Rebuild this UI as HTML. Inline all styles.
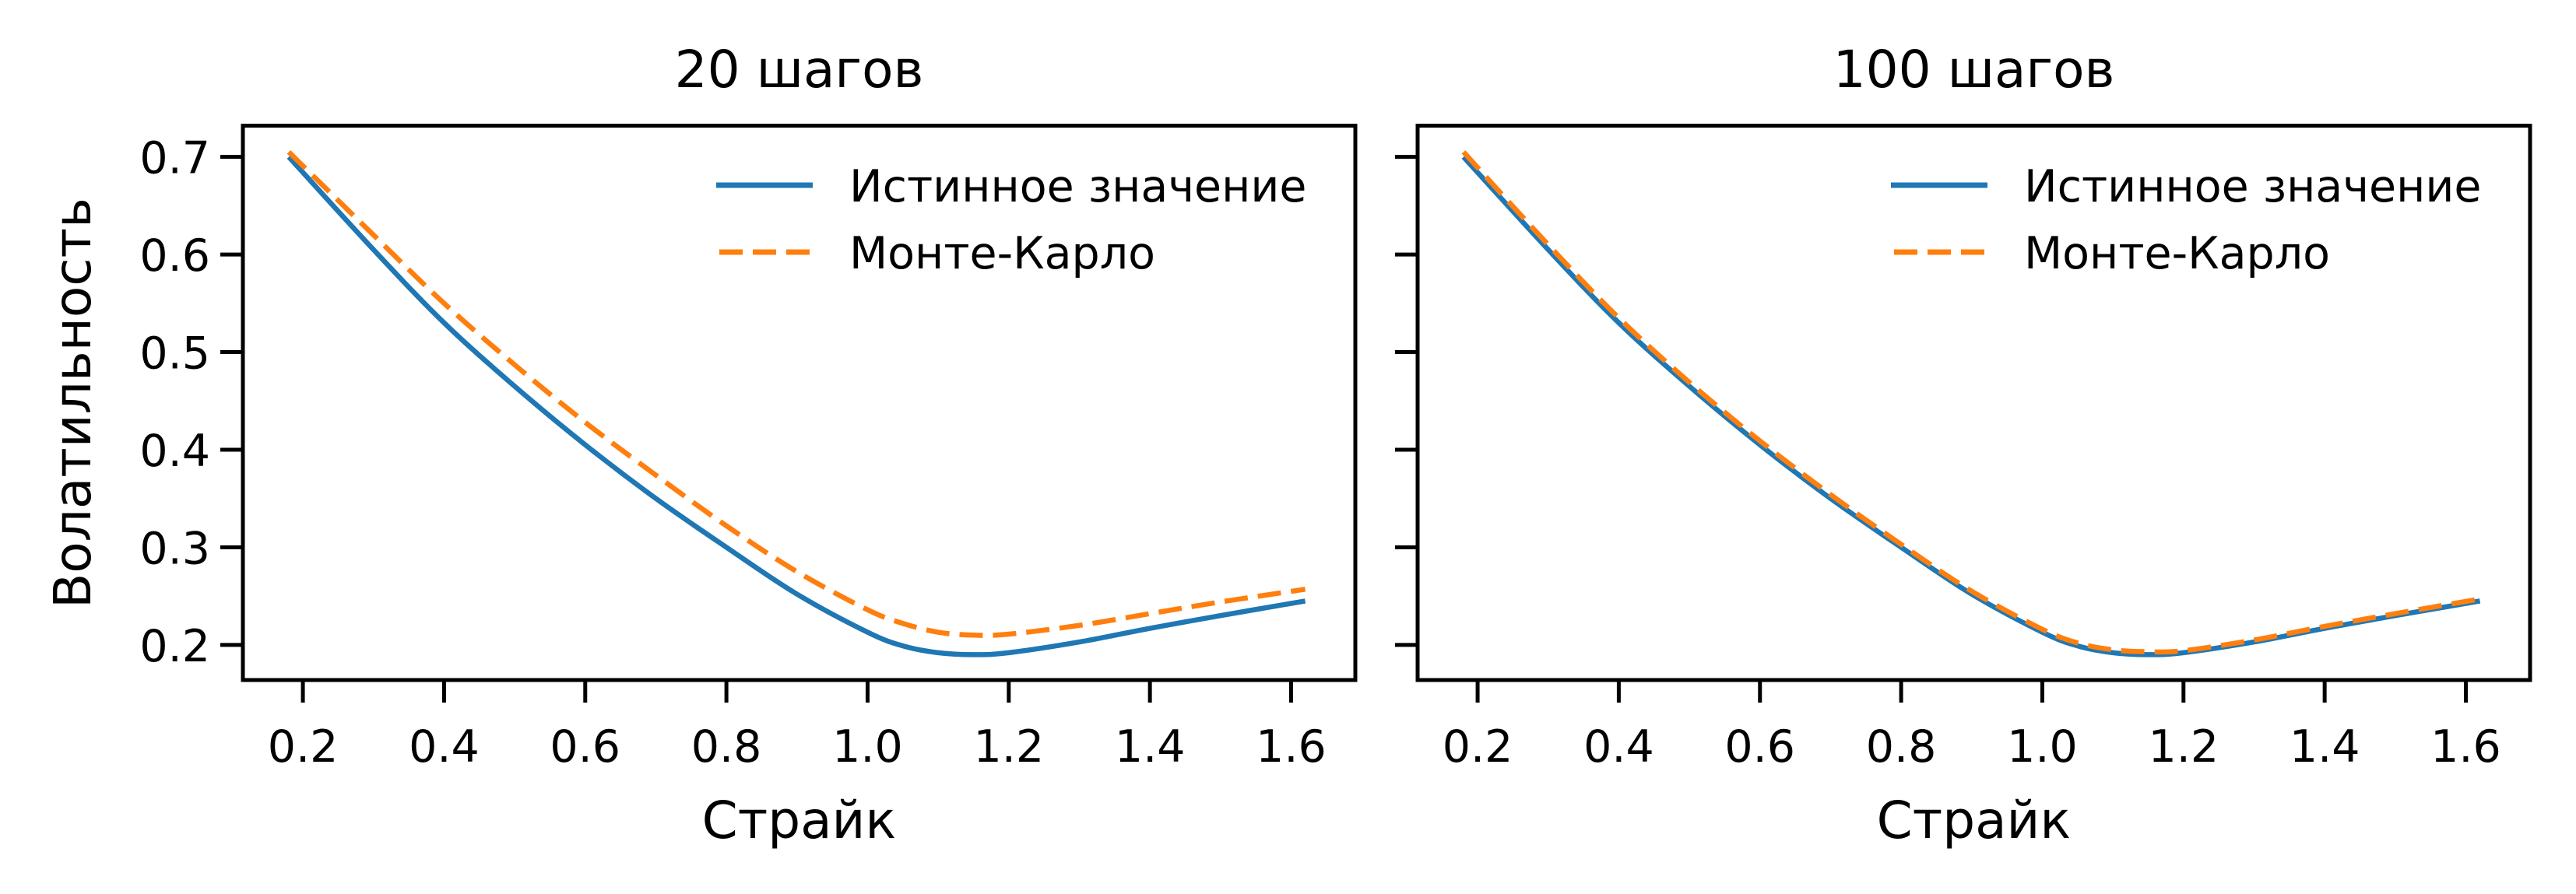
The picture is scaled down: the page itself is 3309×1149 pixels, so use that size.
<!DOCTYPE html>
<html><head><meta charset="utf-8"><style>
html,body{margin:0;padding:0;background:#fff;}
svg{display:block;font-family:"DejaVu Sans","Liberation Sans",sans-serif;}
</style></head><body>
<svg id="fig" width="3309" height="1149" viewBox="0 0 3309 1149" xmlns="http://www.w3.org/2000/svg"></svg>
<script>
const strikes = [0.18,0.3,0.4,0.5,0.6,0.7,0.8,0.9,1.0,1.05,1.1,1.15,1.2,1.3,1.4,1.5,1.62];
const trueVol = [0.700,0.605,0.530,0.465,0.405,0.350,0.300,0.252,0.213,0.199,0.192,0.190,0.192,0.203,0.217,0.230,0.245];
const mc20 = [0.705,0.620,0.550,0.487,0.428,0.374,0.322,0.275,0.236,0.222,0.213,0.210,0.211,0.220,0.232,0.244,0.257];
const mc100 = [0.705,0.610,0.535,0.469,0.409,0.354,0.303,0.255,0.216,0.202,0.195,0.193,0.194,0.205,0.219,0.232,0.247];
const xTicks = [0.2,0.4,0.6,0.8,1.0,1.2,1.4,1.6];
const yTicks = [0.2,0.3,0.4,0.5,0.6,0.7];
const titles = ["20 шагов","100 шагов"];
const xDomain = [0.115,1.691];
const yDomain = [0.164,0.732];

const NS="http://www.w3.org/2000/svg";
const svg=document.getElementById('fig');
function mk(tag,attrs,parent){const e=document.createElementNS(NS,tag);for(const k in attrs)e.setAttribute(k,attrs[k]);(parent||svg).appendChild(e);return e;}
const topY=161.5,botY=874;
const panels=[{L:312,R:1741,mc:mc20,showY:true},{L:1821,R:3250,mc:mc100,showY:false}];
function smooth(pts){let d="M"+pts[0][0]+","+pts[0][1];for(let i=0;i<pts.length-1;i++){const p0=pts[Math.max(0,i-1)],p1=pts[i],p2=pts[i+1],p3=pts[Math.min(pts.length-1,i+2)];const c1x=p1[0]+(p2[0]-p0[0])/6,c1y=p1[1]+(p2[1]-p0[1])/6,c2x=p2[0]-(p3[0]-p1[0])/6,c2y=p2[1]-(p3[1]-p1[1])/6;d+=" C"+c1x+","+c1y+" "+c2x+","+c2y+" "+p2[0]+","+p2[1];}return d;}
panels.forEach((p,pi)=>{
  const g=mk('g',{});
  
  
  const xs=v=>p.L+(v-xDomain[0])/(xDomain[1]-xDomain[0])*(p.R-p.L);
  const ys=v=>botY-(v-yDomain[0])/(yDomain[1]-yDomain[0])*(botY-topY);
  const cx=(p.L+p.R)/2;
  const t=mk('text',{x:cx,y:112,'font-size':66,'text-anchor':'middle'},g);t.textContent=titles[pi];
  
  
  xTicks.forEach(v=>{const x=xs(v);
    const l=mk('line',{x1:x,x2:x,y1:botY,y2:botY+29,stroke:'#000','stroke-width':5},g);
    
    
    const tx=mk('text',{x:x,y:979,'font-size':57,'text-anchor':'middle'},g);tx.textContent=v.toFixed(1);
    
    });
  yTicks.forEach(v=>{const y=ys(v);
    const l=mk('line',{x1:p.L-29,x2:p.L,y1:y,y2:y,stroke:'#000','stroke-width':5},g);
    
    
    if(p.showY){const ty=mk('text',{x:p.L-42,y:y+21,'font-size':57,'text-anchor':'end'},g);ty.textContent=v.toFixed(1);
      
      }});
  const xl=mk('text',{x:cx,y:1077,'font-size':66,'text-anchor':'middle'},g);xl.textContent='Страйк';
  
  
  if(p.showY){const yl=mk('text',{x:0,y:0,'font-size':66,'text-anchor':'middle',transform:'translate(116,518) rotate(-90)'},g);yl.textContent='Волатильность';
    
    }
  const tp=strikes.map((s,i)=>[xs(s),ys(trueVol[i])]);
  const l1=mk('path',{d:smooth(tp),fill:'none',stroke:'#1f77b4','stroke-width':6.5,'stroke-linejoin':'round'},g);
  
  
  const mp=strikes.map((s,i)=>[xs(s),ys(p.mc[i])]);
  const l2=mk('path',{d:smooth(mp),fill:'none',stroke:'#ff7f0e','stroke-width':6.5,'stroke-dasharray':'30 13'},g);
  
  
  const fr=mk('rect',{x:p.L,y:topY,width:p.R-p.L,height:botY-topY,fill:'none',stroke:'#000','stroke-width':5},g);
  
  
  const lg=mk('g',{},g);
  
  
  const o=p.L-312;
  const ll1=mk('line',{x1:920+o,x2:1044+o,y1:238,y2:238,stroke:'#1f77b4','stroke-width':7},lg);
  
  
  const lt1=mk('text',{x:1091+o,y:259,'font-size':57},lg);lt1.textContent='Истинное значение';
  
  
  const ll2=mk('line',{x1:924+o,x2:1044+o,y1:324,y2:324,stroke:'#ff7f0e','stroke-width':7,'stroke-dasharray':'30 13'},lg);
  
  
  const lt2=mk('text',{x:1091+o,y:345,'font-size':57},lg);lt2.textContent='Монте-Карло';
  
  
});
</script>
</body></html>
